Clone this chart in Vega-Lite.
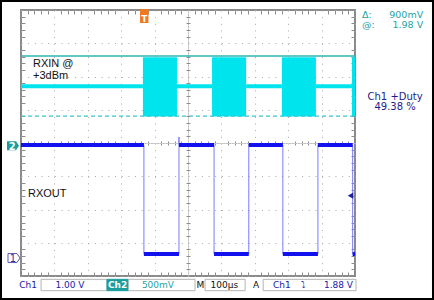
{
  "$schema": "https://vega.github.io/schema/vega-lite/v6.json",
  "width": 334,
  "height": 266,
  "autosize": {"type": "none"},
  "padding": {"left": 21, "top": 10, "right": 79, "bottom": 24},
  "background": "white",
  "view": {"stroke": "#8a8a8a", "strokeWidth": 2},
  "config": {"text": {"font": "DejaVu Sans"}},
  "datasets": {
    "one": [{}],
    "ch1": [
      {"i": 0, "t": 0, "v": 3.94}, {"i": 1, "t": 368, "v": 3.94}, {"i": 2, "t": 368, "v": 0.66}, {"i": 3, "t": 473, "v": 0.66},
      {"i": 4, "t": 473, "v": 4.18}, {"i": 5, "t": 473, "v": 3.94}, {"i": 6, "t": 578, "v": 3.94}, {"i": 7, "t": 578, "v": 0.66},
      {"i": 8, "t": 682, "v": 0.66}, {"i": 9, "t": 682, "v": 3.94}, {"i": 10, "t": 784, "v": 3.94}, {"i": 11, "t": 784, "v": 0.66},
      {"i": 12, "t": 889, "v": 0.66}, {"i": 13, "t": 889, "v": 3.94}, {"i": 14, "t": 993, "v": 3.94}, {"i": 15, "t": 993, "v": 0.66},
      {"i": 16, "t": 1000, "v": 0.66}
    ],
    "ch1lvl": [
      {"t0": 0, "t1": 368, "v": 3.94}, {"t0": 368, "t1": 473, "v": 0.66}, {"t0": 473, "t1": 578, "v": 3.94}, {"t0": 578, "t1": 682, "v": 0.66},
      {"t0": 682, "t1": 784, "v": 3.94}, {"t0": 784, "t1": 889, "v": 0.66}, {"t0": 889, "t1": 993, "v": 3.94}, {"t0": 993, "t1": 1000, "v": 0.66}
    ],
    "ch2base": [
      {"t0": 0, "t1": 365}, {"t0": 467, "t1": 572}, {"t0": 674, "t1": 781}, {"t0": 883, "t1": 991}
    ],
    "ch2burst": [
      {"t0": 365, "t1": 467}, {"t0": 572, "t1": 674}, {"t0": 781, "t1": 883}, {"t0": 991, "t1": 1000}
    ],
    "boxes": [
      {"t0": 60, "t1": 257.5, "kind": "plain"}, {"t0": 257.5, "t1": 320, "kind": "ch2"}, {"t0": 320, "t1": 521, "kind": "plain"},
      {"t0": 551, "t1": 671, "kind": "plain"}, {"t0": 725, "t1": 1003, "kind": "plain"}
    ],
    "labels": [
      {"text": "RXIN @", "t": 36, "v": 6.29, "kind": "note"},
      {"text": "+3dBm", "t": 36, "v": 5.925, "kind": "note"},
      {"text": "RXOUT", "t": 21, "v": 2.376, "kind": "note"},
      {"text": "Δ:", "t": 1021, "v": 7.77, "kind": "cursorL"},
      {"text": "@:", "t": 1021, "v": 7.47, "kind": "cursorL"},
      {"text": "900mV", "t": 1204, "v": 7.77, "kind": "cursorR"},
      {"text": "1.98 V", "t": 1204, "v": 7.47, "kind": "cursorR"},
      {"text": "Ch1 +Duty", "t": 1120, "v": 5.29, "kind": "meas"},
      {"text": "49.38 %", "t": 1120, "v": 4.99, "kind": "meas"},
      {"text": "Ch1", "t": 21, "v": -0.346, "kind": "sblue"},
      {"text": "1.00 V", "t": 146.7, "v": -0.346, "kind": "sblue"},
      {"text": "Ch2", "t": 289, "v": -0.346, "kind": "swhite"},
      {"text": "500mV", "t": 410, "v": -0.346, "kind": "steal"},
      {"text": "M", "t": 537, "v": -0.346, "kind": "sblack"},
      {"text": "100µs", "t": 609, "v": -0.346, "kind": "sblack"},
      {"text": "A", "t": 704, "v": -0.346, "kind": "sblack"},
      {"text": "Ch1", "t": 781, "v": -0.346, "kind": "sblue"},
      {"text": "⤵", "t": 847, "v": -0.346, "kind": "sblue"},
      {"text": "1.88 V", "t": 950.6, "v": -0.346, "kind": "sblue"}
    ]
  },
  "layer": [
    {
      "data": {"name": "ch2burst"},
      "mark": {"type": "rect", "color": "#00e4ee"},
      "encoding": {
        "x": {"field": "t0", "type": "quantitative", "scale": {"domain": [0, 1000], "nice": false, "zero": false},
          "axis": {"title": null, "labels": false, "ticks": false, "domain": false, "grid": true, "tickCount": 50, "gridWidth": 1,
            "gridColor": {"condition": [{"test": "datum.value === 500", "value": "#c4c4c4"}, {"test": "datum.value % 100 === 0", "value": "#a8a8a8"}], "value": "#8c8c8c"},
            "gridDash": {"condition": [{"test": "datum.value === 500", "value": [3, 0]}, {"test": "datum.value % 100 === 0", "value": [1, 5.65]}], "value": [4, 127, 4, 127, 4, 60]}}},
        "x2": {"field": "t1"},
        "y": {"datum": 6.58, "type": "quantitative", "scale": {"domain": [0, 8], "nice": false, "zero": false},
          "axis": {"title": null, "labels": false, "ticks": false, "domain": false, "grid": true, "tickCount": 40, "gridWidth": 1,
            "gridColor": {"condition": [{"test": "abs(datum.value - 4) < 0.01", "value": "#c4c4c4"}, {"test": "abs(datum.value - round(datum.value)) < 0.01", "value": "#a8a8a8"}], "value": "#8c8c8c"},
            "gridDash": {"condition": [{"test": "abs(datum.value - 4) < 0.01", "value": [3, 0]}, {"test": "abs(datum.value - round(datum.value)) < 0.01", "value": [1, 5.68]}], "value": [4, 161, 4, 161, 4, 60]}}},
        "y2": {"datum": 4.80}
      }
    },
    {
      "data": {"name": "ch2base"},
      "mark": {"type": "rule", "color": "#00e4ee", "strokeWidth": 4},
      "encoding": {
        "x": {"field": "t0", "type": "quantitative"},
        "x2": {"field": "t1"},
        "y": {"datum": 5.71, "type": "quantitative"}
      }
    },
    {
      "data": {"name": "one"},
      "mark": {"type": "rule", "color": "#2db3b3", "strokeWidth": 1.5},
      "encoding": {"x": {"datum": 0, "type": "quantitative"}, "x2": {"datum": 1000}, "y": {"datum": 6.62, "type": "quantitative"}}
    },
    {
      "data": {"name": "one"},
      "mark": {"type": "rule", "color": "#3cc4cc", "strokeWidth": 1.2, "strokeDash": [4, 3]},
      "encoding": {"x": {"datum": 0, "type": "quantitative"}, "x2": {"datum": 1000}, "y": {"datum": 4.81, "type": "quantitative"}}
    },
    {
      "data": {"name": "ch1"},
      "mark": {"type": "line", "color": "#7a7aff", "strokeWidth": 1, "interpolate": "linear"},
      "encoding": {
        "x": {"field": "t", "type": "quantitative"},
        "y": {"field": "v", "type": "quantitative"},
        "order": {"field": "i", "type": "quantitative"}
      }
    },
    {
      "data": {"name": "ch1lvl"},
      "mark": {"type": "rule", "color": "#1212ee", "strokeWidth": 4},
      "encoding": {
        "x": {"field": "t0", "type": "quantitative"},
        "x2": {"field": "t1"},
        "y": {"field": "v", "type": "quantitative"}
      }
    },
    {
      "data": {"name": "one"},
      "mark": {"type": "point", "shape": "M-1,-0.75L0.5,-0.75L1,0L0.5,0.75L-1,0.75Z", "size": 144, "filled": true, "color": "#1a9d9d", "opacity": 1},
      "encoding": {"x": {"datum": -24, "type": "quantitative"}, "y": {"datum": 3.92, "type": "quantitative"}}
    },
    {
      "data": {"name": "one"},
      "mark": {"type": "text", "text": "2", "color": "white", "fontSize": 10, "fontWeight": "bold", "align": "center", "baseline": "alphabetic"},
      "encoding": {"x": {"datum": -26, "type": "quantitative"}, "y": {"datum": 3.80, "type": "quantitative"}}
    },
    {
      "data": {"name": "one"},
      "mark": {"type": "point", "shape": "M-1,-0.75L0.5,-0.75L1,0L0.5,0.75L-1,0.75Z", "size": 144, "filled": true, "fill": "white", "stroke": "#5a5ab4", "strokeWidth": 1, "opacity": 1},
      "encoding": {"x": {"datum": -21, "type": "quantitative"}, "y": {"datum": 0.54, "type": "quantitative"}}
    },
    {
      "data": {"name": "one"},
      "mark": {"type": "text", "text": "1", "color": "#3030a0", "fontSize": 10, "align": "center", "baseline": "alphabetic"},
      "encoding": {"x": {"datum": -24, "type": "quantitative"}, "y": {"datum": 0.42, "type": "quantitative"}}
    },
    {
      "data": {"name": "one"},
      "mark": {"type": "point", "shape": "M-0.6,-1L0.6,-1L0.6,1L-0.6,1Z", "size": 196, "filled": true, "color": "#f07820", "opacity": 1},
      "encoding": {"x": {"datum": 369, "type": "quantitative"}, "y": {"datum": 7.82, "type": "quantitative"}}
    },
    {
      "data": {"name": "one"},
      "mark": {"type": "text", "text": "T", "color": "white", "fontSize": 9, "fontWeight": "bold", "align": "center", "baseline": "alphabetic"},
      "encoding": {"x": {"datum": 369, "type": "quantitative"}, "y": {"datum": 7.63, "type": "quantitative"}}
    },
    {
      "data": {"name": "one"},
      "mark": {"type": "point", "shape": "triangle-left", "size": 40, "filled": true, "color": "#2020a0", "opacity": 1},
      "encoding": {"x": {"datum": 986.5, "type": "quantitative"}, "y": {"datum": 2.415, "type": "quantitative"}}
    },
    {
      "data": {"name": "boxes"},
      "transform": [{"filter": "datum.kind === 'plain'"}],
      "mark": {"type": "rect", "fill": "white", "stroke": "#b4b4b4", "strokeWidth": 1},
      "encoding": {
        "x": {"field": "t0", "type": "quantitative"}, "x2": {"field": "t1"},
        "y": {"datum": -0.10, "type": "quantitative"}, "y2": {"datum": -0.442}
      }
    },
    {
      "data": {"name": "boxes"},
      "transform": [{"filter": "datum.kind === 'ch2'"}],
      "mark": {"type": "rect", "fill": "#1a9d9d", "stroke": "#1a9d9d", "strokeWidth": 1},
      "encoding": {
        "x": {"field": "t0", "type": "quantitative"}, "x2": {"field": "t1"},
        "y": {"datum": -0.10, "type": "quantitative"}, "y2": {"datum": -0.442}
      }
    },
    {
      "data": {"name": "labels"},
      "transform": [{"filter": "datum.kind === 'note'"}],
      "mark": {"type": "text", "font": "Liberation Sans", "fontSize": 11, "color": "#111111", "align": "left", "baseline": "alphabetic"},
      "encoding": {"x": {"field": "t", "type": "quantitative"}, "y": {"field": "v", "type": "quantitative"}, "text": {"field": "text"}}
    },
    {
      "data": {"name": "labels"},
      "transform": [{"filter": "datum.kind === 'cursorL'"}],
      "mark": {"type": "text", "fontSize": 9.5, "color": "#1fa3a3", "align": "left", "baseline": "alphabetic"},
      "encoding": {"x": {"field": "t", "type": "quantitative"}, "y": {"field": "v", "type": "quantitative"}, "text": {"field": "text"}}
    },
    {
      "data": {"name": "labels"},
      "transform": [{"filter": "datum.kind === 'cursorR'"}],
      "mark": {"type": "text", "fontSize": 9.5, "color": "#1fa3a3", "align": "right", "baseline": "alphabetic"},
      "encoding": {"x": {"field": "t", "type": "quantitative"}, "y": {"field": "v", "type": "quantitative"}, "text": {"field": "text"}}
    },
    {
      "data": {"name": "labels"},
      "transform": [{"filter": "datum.kind === 'meas'"}],
      "mark": {"type": "text", "fontSize": 10, "color": "#1c1c8c", "align": "center", "baseline": "alphabetic"},
      "encoding": {"x": {"field": "t", "type": "quantitative"}, "y": {"field": "v", "type": "quantitative"}, "text": {"field": "text"}}
    },
    {
      "data": {"name": "labels"},
      "transform": [{"filter": "datum.kind === 'sblue'"}],
      "mark": {"type": "text", "fontSize": 9, "color": "#2020a8", "align": "center", "baseline": "alphabetic"},
      "encoding": {"x": {"field": "t", "type": "quantitative"}, "y": {"field": "v", "type": "quantitative"}, "text": {"field": "text"}}
    },
    {
      "data": {"name": "labels"},
      "transform": [{"filter": "datum.kind === 'steal'"}],
      "mark": {"type": "text", "fontSize": 9, "color": "#1fa3a3", "align": "center", "baseline": "alphabetic"},
      "encoding": {"x": {"field": "t", "type": "quantitative"}, "y": {"field": "v", "type": "quantitative"}, "text": {"field": "text"}}
    },
    {
      "data": {"name": "labels"},
      "transform": [{"filter": "datum.kind === 'swhite'"}],
      "mark": {"type": "text", "fontSize": 9, "fontWeight": "bold", "color": "white", "align": "center", "baseline": "alphabetic"},
      "encoding": {"x": {"field": "t", "type": "quantitative"}, "y": {"field": "v", "type": "quantitative"}, "text": {"field": "text"}}
    },
    {
      "data": {"name": "labels"},
      "transform": [{"filter": "datum.kind === 'sblack'"}],
      "mark": {"type": "text", "fontSize": 9, "color": "#111111", "align": "center", "baseline": "alphabetic"},
      "encoding": {"x": {"field": "t", "type": "quantitative"}, "y": {"field": "v", "type": "quantitative"}, "text": {"field": "text"}}
    },
    {
      "data": {"name": "one"},
      "mark": {"type": "rect", "fill": null, "stroke": "black", "strokeWidth": 4},
      "encoding": {
        "x": {"datum": -62.87, "type": "quantitative"}, "x2": {"datum": 1236.5},
        "y": {"datum": 8.30, "type": "quantitative"}, "y2": {"datum": -0.722}
      }
    }
  ]
}
